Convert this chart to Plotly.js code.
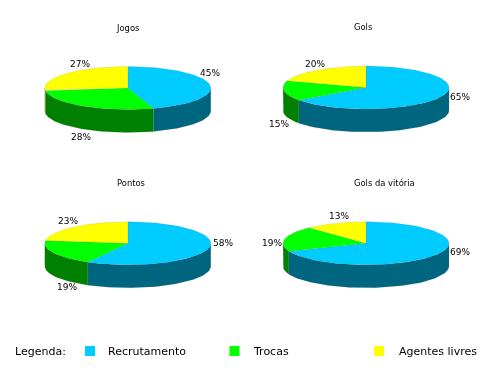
<!DOCTYPE html>
<html>
<head>
<meta charset="utf-8">
<script src="https://cdn.plot.ly/plotly-3.0.1.min.js"></script>
<style>html,body{margin:0;padding:0;background:#fff}#c{width:500px;height:378px;filter:blur(0.3px)}</style>
</head>
<body>
<div id="c"></div>
<script>
// Data
const pieTitles = ['Jogos', 'Gols', 'Pontos', 'Gols da vitória'];
const categories = ['Recrutamento', 'Trocas', 'Agentes livres'];
const recrutamento = [45, 65, 58, 69];
const trocas = [28, 15, 19, 19];
const agentes = [27, 20, 23, 13];
const legendLead = 'Legenda:';

// Style and layout
const topColors = ['#00CCFF', '#00FF00', '#FFFF00'];
const wallColors = ['#006680', '#008000', '#808000'];
const edgeColor = 'rgba(110,110,110,0.22)';
const pieCenters = [[127.8, 88], [366, 87.5], [127.8, 243.3], [366, 243.3]];
const titleX = [114, 352, 115, 352];
const titleY = [27.5, 27, 182.5, 182.5];
const rx = 83, ry = 21.5, depth = 23;
// label offsets (pixels) from the rim point at each slice's mid-angle
const labelShift = [
  [[0, -12], [-2, 31], [14, -10]],
  [[20, 0], [-5, 33], [-2, -6]],
  [[14.5, -6], [13, 34], [-5, -6]],
  [[25, -3], [-13, 4], [4, -7]]
];
const legendSwatchX = [90, 234.5, 379];
const legendTextX = [105.5, 251, 396.5];
const legendY = 351;
const ink = '#000000';
const fontFamily = '"DejaVu Sans", sans-serif';

const traces = [];
const annotations = [];

function rim(c, t, dy) {
  const r = t * Math.PI / 180;
  return [c[0] + rx * Math.sin(r), c[1] - ry * Math.cos(r) + dy];
}
function arc(c, a, b, dy) {
  const pts = [];
  const n = Math.max(2, Math.ceil(Math.abs(b - a) / 2));
  for (let i = 0; i <= n; i++) pts.push(rim(c, a + (b - a) * i / n, dy));
  return pts;
}
function poly(pts, fill) {
  const xs = pts.map(p => p[0]), ys = pts.map(p => p[1]);
  xs.push(xs[0]); ys.push(ys[0]);
  traces.push({
    type: 'scatter', mode: 'lines', x: xs, y: ys, fill: 'toself', fillcolor: fill,
    line: { color: edgeColor, width: 0.6 }, hoverinfo: 'skip', showlegend: false
  });
}

pieTitles.forEach((title, i) => {
  const c = pieCenters[i];
  const vals = [recrutamento[i], trocas[i], agentes[i]];
  let cum = 0;
  const slices = vals.map(v => {
    const s = { a: cum * 3.6, b: Math.min(cum + v, 100) * 3.6 };
    cum += v;
    return s;
  });
  // outer wall: only the front half of the rim is visible
  slices.forEach((s, k) => {
    const a = Math.max(s.a, 90), b = Math.min(s.b, 270);
    if (b > a) poly(arc(c, a, b, 0).concat(arc(c, b, a, depth)), wallColors[k]);
  });
  // top faces
  slices.forEach((s, k) => poly([c].concat(arc(c, s.a, s.b, 0)), topColors[k]));
  // percent labels
  slices.forEach((s, k) => {
    const p = rim(c, (s.a + s.b) / 2, 0);
    annotations.push({
      x: p[0] + labelShift[i][k][0], y: p[1] + labelShift[i][k][1],
      xref: 'x', yref: 'y', text: vals[k] + '%', showarrow: false,
      font: { family: fontFamily, size: 9, color: ink }
    });
  });
  annotations.push({
    x: titleX[i], y: titleY[i], xref: 'x', yref: 'y', xanchor: 'left', text: title, showarrow: false,
    font: { family: fontFamily, size: 8.4, color: ink }
  });
});

// legend row
annotations.push({
  x: 13, y: legendY, xref: 'x', yref: 'y', xanchor: 'left', text: legendLead, showarrow: false,
  font: { family: fontFamily, size: 11, color: ink }
});
categories.forEach((name, k) => {
  traces.push({
    type: 'scatter', mode: 'markers', x: [legendSwatchX[k]], y: [legendY],
    marker: { symbol: 'square', size: 10, color: topColors[k] },
    hoverinfo: 'skip', showlegend: false
  });
  annotations.push({
    x: legendTextX[k], y: legendY, xref: 'x', yref: 'y', xanchor: 'left', text: name, showarrow: false,
    font: { family: fontFamily, size: 11, color: ink }
  });
});

const hidden = { visible: false, fixedrange: true };
Plotly.newPlot('c', traces, {
  width: 500, height: 378,
  margin: { l: 0, r: 0, t: 0, b: 0 },
  paper_bgcolor: '#fff', plot_bgcolor: '#fff',
  xaxis: Object.assign({ range: [0, 500] }, hidden),
  yaxis: Object.assign({ range: [378, 0] }, hidden),
  showlegend: false,
  annotations
}, { displayModeBar: false, staticPlot: true });
</script>
</body>
</html>
